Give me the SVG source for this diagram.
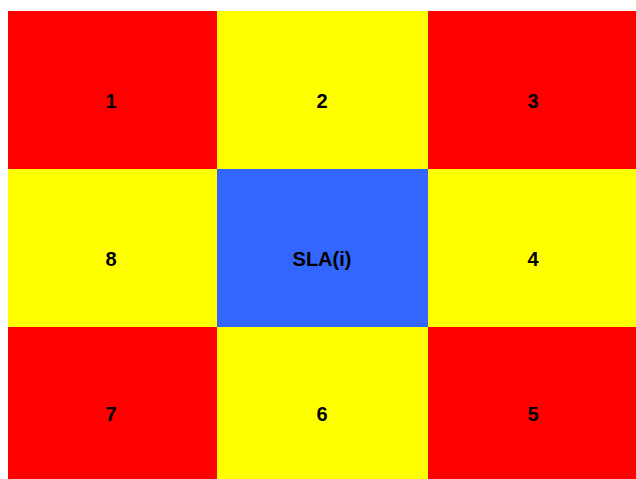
<svg xmlns="http://www.w3.org/2000/svg" width="636" height="479" viewBox="0 0 636 479">
<style>
.r{fill:#ff0000}.y{fill:#ffff00}.b{fill:#3366ff}
text{font-family:"Liberation Sans",Arial,sans-serif;font-weight:bold;font-size:20px;fill:#000;text-anchor:middle}
</style>
<rect width="636" height="479" fill="#ffffff"/>
<g id="c1"><rect class="r" x="8" y="11" width="209" height="158"/><text x="111" y="108">1</text></g>
<g id="c2"><rect class="y" x="217" y="11" width="211" height="158"/><text x="322" y="108">2</text></g>
<g id="c3"><rect class="r" x="428" y="11" width="208" height="158"/><text x="533" y="108">3</text></g>
<g id="c8"><rect class="y" x="8" y="169" width="209" height="158"/><text x="111" y="266">8</text></g>
<g id="sla"><rect class="b" x="217" y="169" width="211" height="158"/><text x="322" y="266">SLA(i)</text></g>
<g id="c4"><rect class="y" x="428" y="169" width="208" height="158"/><text x="533" y="266">4</text></g>
<g id="c7"><rect class="r" x="8" y="327" width="209" height="152"/><text x="111" y="421">7</text></g>
<g id="c6"><rect class="y" x="217" y="327" width="211" height="152"/><text x="322" y="421">6</text></g>
<g id="c5"><rect class="r" x="428" y="327" width="208" height="152"/><text x="533" y="421">5</text></g>
<g id="connectors"></g>
</svg>
